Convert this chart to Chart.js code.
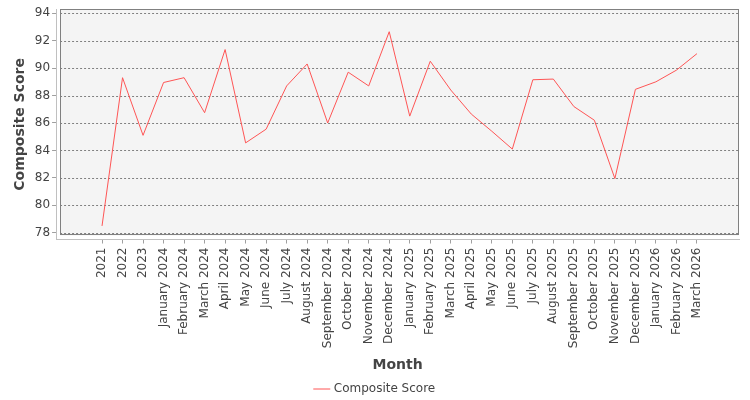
<!DOCTYPE html>
<html>
<head>
<meta charset="utf-8">
<script src="https://cdn.jsdelivr.net/npm/chart.js@4"></script>
<style>
  html, body { margin: 0; padding: 0; background: #ffffff; }
  #wrap { width: 750px; height: 400px; }
</style>
</head>
<body>
<div id="wrap"><canvas id="scoreChart"></canvas></div>
<script>
// category labels, one per point
const months = [
    '2021', '2022', '2023',
    'January 2024', 'February 2024', 'March 2024', 'April 2024', 'May 2024', 'June 2024',
    'July 2024', 'August 2024', 'September 2024', 'October 2024', 'November 2024', 'December 2024',
    'January 2025', 'February 2025', 'March 2025', 'April 2025', 'May 2025', 'June 2025',
    'July 2025', 'August 2025', 'September 2025', 'October 2025', 'November 2025', 'December 2025',
    'January 2026', 'February 2026', 'March 2026'
];

// composite score
const scores = [
    78.5, 89.3, 85.1,
    88.95, 89.3, 86.75, 91.35, 84.55, 85.55,
    88.7, 90.3, 86.0, 89.7, 88.7, 92.65,
    86.5, 90.5, 88.4, 86.65, 85.4, 84.1,
    89.15, 89.2, 87.2, 86.2, 81.95, 88.45,
    89.0, 89.85, 91.05
];

const yTicks = [78, 80, 82, 84, 86, 88, 90, 92, 94];

const textColor = '#444444';
const font = 'DejaVu Sans, sans-serif';
const axisGap = 4; // JFreeChart draws its axes a few px off the plot frame

// plot background, dashed range lines and frame, JFreeChart style
const plotFrame = {
    id: 'plotFrame',
    beforeDatasetsDraw(chart) {
        const a = chart.chartArea;
        const ctx = chart.ctx;
        const left = a.left + axisGap, bottom = a.bottom - axisGap;
        ctx.save();
        ctx.fillStyle = '#f4f4f4';
        ctx.fillRect(left, a.top, a.right - left, bottom - a.top);

        const y = chart.scales.y;
        ctx.strokeStyle = '#808080';
        ctx.lineWidth = 1;
        ctx.setLineDash([2, 2]);
        y.ticks.forEach(t => {
            const py = Math.round(y.getPixelForValue(t.value)) + 0.5;
            ctx.beginPath();
            ctx.moveTo(left, py);
            ctx.lineTo(a.right, py);
            ctx.stroke();
        });
        ctx.restore();
    },
    afterDraw(chart) {
        const a = chart.chartArea;
        const ctx = chart.ctx;
        const left = a.left + axisGap, bottom = a.bottom - axisGap;
        ctx.save();
        ctx.strokeStyle = '#808080';
        ctx.lineWidth = 1;
        ctx.strokeRect(Math.round(left) + 0.5, Math.round(a.top) + 0.5,
            Math.round(a.right - left) - 1, Math.round(bottom - a.top) - 1);
        ctx.restore();
    }
};

new Chart(document.getElementById('scoreChart'), {
    type: 'line',
    data: {
        datasets: [{
            label: 'Composite Score',
            data: scores.map((v, i) => ({ x: i, y: v })),
            borderColor: '#ff5555',
            backgroundColor: '#ff5555',
            borderWidth: 1,
            pointRadius: 0,
            tension: 0,
            fill: false
        }]
    },
    plugins: [plotFrame],
    options: {
        responsive: true,
        maintainAspectRatio: false,
        animation: false,
        layout: {
            padding: { left: 12, right: 11, top: 5, bottom: -5 }
        },
        plugins: {
            legend: {
                position: 'bottom',
                labels: {
                    usePointStyle: true,
                    pointStyle: 'line',
                    boxWidth: 16,
                    color: textColor,
                    font: { family: font, size: 12 },
                    padding: 1
                }
            },
            tooltip: { enabled: false }
        },
        scales: {
            x: {
                type: 'linear',
                min: -2.24,
                max: 31.05,
                afterBuildTicks(scale) {
                    scale.ticks = months.map((m, i) => ({ value: i }));
                },
                ticks: {
                    autoSkip: false,
                    maxRotation: 90,
                    minRotation: 90,
                    color: textColor,
                    font: { family: font, size: 12 },
                    padding: 4,
                    callback: (v) => months[v]
                },
                grid: {
                    drawOnChartArea: false,
                    drawTicks: true,
                    tickLength: 4,
                    color: '#a0a0a0'
                },
                border: { display: true, color: '#c0c0c0' },
                title: {
                    display: true,
                    text: 'Month',
                    color: textColor,
                    font: { family: font, size: 14, weight: 'bold' },
                    padding: { top: 5, bottom: 8 }
                }
            },
            y: {
                min: 77.51,
                max: 94.29,
                afterBuildTicks(scale) {
                    scale.ticks = yTicks.map(v => ({ value: v }));
                },
                ticks: {
                    color: textColor,
                    font: { family: font, size: 12 },
                    padding: 2
                },
                grid: {
                    drawOnChartArea: false,
                    drawTicks: true,
                    tickLength: 4,
                    color: '#a0a0a0'
                },
                border: { display: true, color: '#c0c0c0' },
                title: {
                    display: true,
                    text: 'Composite Score',
                    color: textColor,
                    font: { family: font, size: 14, weight: 'bold' },
                    padding: { top: 0, bottom: 4 }
                }
            }
        }
    }
});
</script>
</body>
</html>
